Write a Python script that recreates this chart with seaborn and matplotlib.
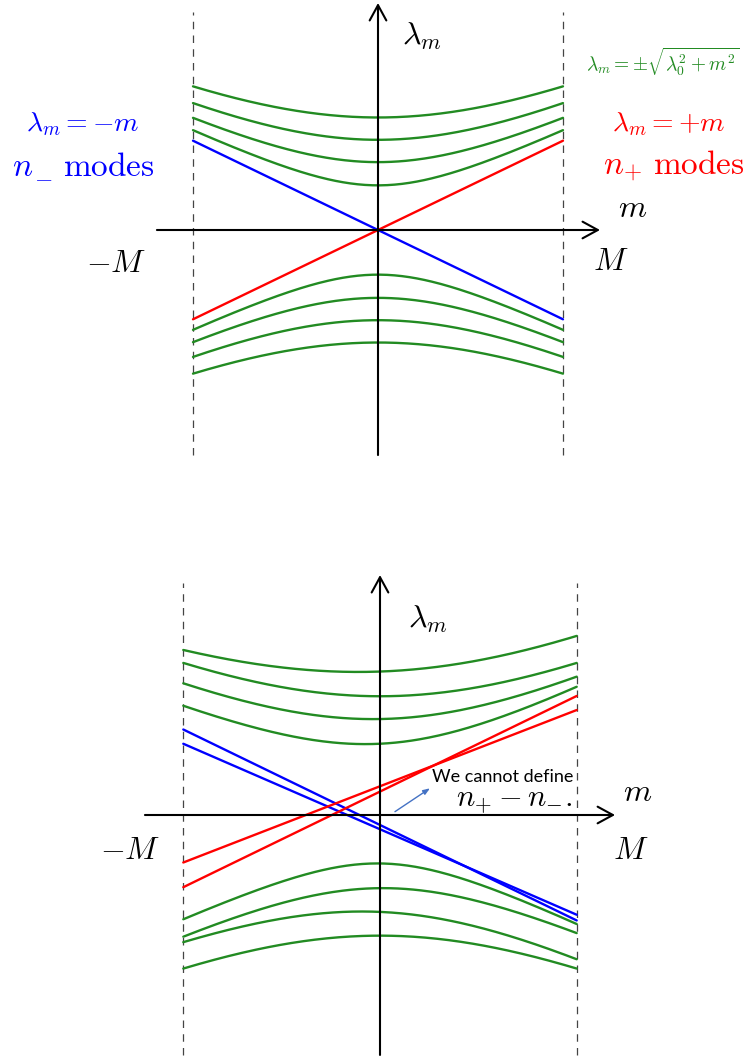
import numpy as np
import matplotlib
matplotlib.use("Agg")
import matplotlib.pyplot as plt
import seaborn as sns

sns.set_style("white")
plt.rcParams['mathtext.fontset'] = 'cm'
plt.rcParams['font.family'] = ['DejaVu Sans']
plt.rcParams['text.color'] = 'black'

# top panel: lambda_m = +-sqrt(lambda0^2 + m^2) and lambda_m = +-m
top_lambda0 = [0.50, 0.76, 1.01, 1.26]
top_blue = [1.0, -1.0]      # values at m = -M, +M
top_red = [-1.0, 1.0]

# bottom panel: perturbed spectrum
bot_upper_lambda0 = [0.75, 1.01, 1.25, 1.51]
bot_upper_tilt = [0.10, 0.035, 0.0, 0.074]
bot_lower_lambda0 = [0.51, 0.77, 1.02, 1.27]
bot_lower_tilt = [-0.025, 0.019, -0.09, 0.0]
bot_blue = [[0.90, -1.11], [0.75, -1.05]]
bot_red = [[-0.50, 1.105], [-0.76, 1.253]]
m_ends = [-1.0, 1.0]

GREEN = '#228B22'
BLUE = '#0000FF'
RED = '#FF0000'

m = np.linspace(-1, 1, 201)

fig = plt.figure(figsize=(7.44, 10.57), dpi=100)


def make_axes(rect, x0, y0, ux, uy, top_px, bot_px):
    # pixel layout -> data limits (m in units of M, lambda in units of uy px)
    ax = fig.add_axes(rect)
    ax.set_xlim(-x0 / ux, (744 - x0) / ux)
    ax.set_ylim((y0 - bot_px) / uy, (y0 - top_px) / uy)
    ax.axis('off')
    return ax


def draw_frame(ax, xlo, xhi, ylo, yhi, dash_top):
    arrow = dict(arrowstyle='->,head_length=0.55,head_width=0.3', lw=1.5,
                 color='k', shrinkA=0, shrinkB=0, mutation_scale=20)
    ax.annotate('', xy=(xhi, 0), xytext=(xlo, 0), arrowprops=arrow)
    ax.annotate('', xy=(0, yhi), xytext=(0, ylo), arrowprops=arrow)
    for xm in m_ends:
        ax.plot([xm, xm], [ylo, dash_top], ls=(0, (6, 5)), lw=0.9,
                color='#444444', zorder=1)


# ---------------- top panel ----------------
ax1 = make_axes([0, 0.5, 1, 0.5], 378, 230, 185, 89.3, 0, 528.5)
draw_frame(ax1, -1.195, 1.20, -2.52, 2.542, 2.44)
for l0 in top_lambda0:
    sns.lineplot(x=m, y=np.sqrt(l0**2 + m**2), color=GREEN, lw=1.7, ax=ax1)
    sns.lineplot(x=m, y=-np.sqrt(l0**2 + m**2), color=GREEN, lw=1.7, ax=ax1)
sns.lineplot(x=m_ends, y=top_blue, color=BLUE, lw=1.7, ax=ax1)
sns.lineplot(x=m_ends, y=top_red, color=RED, lw=1.7, ax=ax1)

ax1.text(0.13, 2.167, r'$\lambda_m$', fontsize=23, ha='left', va='center')
ax1.text(1.376, 0.24, r'$m$', fontsize=23, ha='center', va='center')
ax1.text(-1.414, -0.38, r'$-M$', fontsize=23, ha='center', va='center')
ax1.text(1.259, -0.35, r'$M$', fontsize=23, ha='center', va='center')
ax1.text(-1.597, 1.19, r'$\lambda_m = -m$', fontsize=20, color=BLUE,
         ha='center', va='center')
ax1.text(-1.978, 0.605, r'$n$', fontsize=24, color=BLUE,
         ha='left', va='baseline')
ax1.text(-1.859, 0.593, r'$-$', fontsize=17, color=BLUE,
         ha='left', va='center')
ax1.text(-1.205, 0.605, r'$\mathrm{modes}$', fontsize=24, color=BLUE,
         ha='right', va='baseline')
ax1.text(1.570, 1.19, r'$\lambda_m = +m$', fontsize=20, color=RED,
         ha='center', va='center')
ax1.text(1.597, 0.72, r'$n_{+}\ \mathrm{modes}$', fontsize=24, color=RED,
         ha='center', va='center')
ax1.text(1.538, 1.89, r'$\lambda_m = \pm\sqrt{\lambda_0^2 + m^2}$', fontsize=14,
         color=GREEN, ha='center', va='center')

# ---------------- bottom panel ----------------
ax2 = make_axes([0, 0, 1, 0.5], 380, 815, 196.7, 95, 528.5, 1057)
draw_frame(ax2, -1.195, 1.195, -2.526, 2.526, 2.442)
for l0, t in zip(bot_upper_lambda0, bot_upper_tilt):
    sns.lineplot(x=m, y=np.sqrt(l0**2 + m**2) + t * m, color=GREEN, lw=1.7, ax=ax2)
for l0, t in zip(bot_lower_lambda0, bot_lower_tilt):
    sns.lineplot(x=m, y=-np.sqrt(l0**2 + m**2) + t * m, color=GREEN, lw=1.7, ax=ax2)
for ends in bot_blue:
    sns.lineplot(x=m_ends, y=ends, color=BLUE, lw=1.7, ax=ax2)
for ends in bot_red:
    sns.lineplot(x=m_ends, y=ends, color=RED, lw=1.7, ax=ax2)

ax2.text(0.142, 2.058, r'$\lambda_m$', fontsize=23, ha='left', va='center')
ax2.text(1.312, 0.24, r'$m$', fontsize=23, ha='center', va='center')
ax2.text(-1.271, -0.37, r'$-M$', fontsize=23, ha='center', va='center')
ax2.text(1.276, -0.37, r'$M$', fontsize=23, ha='center', va='center')
ax2.text(0.625, 0.40, 'We cannot define', fontsize=13, family=['Lato'],
         ha='center', va='center')
ax2.text(0.684, 0.15, r'$n_{+} - n_{-}.$', fontsize=22, ha='center', va='center')
ax2.annotate('', xy=(0.254, 0.281), xytext=(0.076, 0.035),
             arrowprops=dict(arrowstyle='-|>,head_length=0.4,head_width=0.15',
                             lw=1.0, color='#4472C4', shrinkA=0, shrinkB=0))

fig.savefig('out.png', dpi=100)
